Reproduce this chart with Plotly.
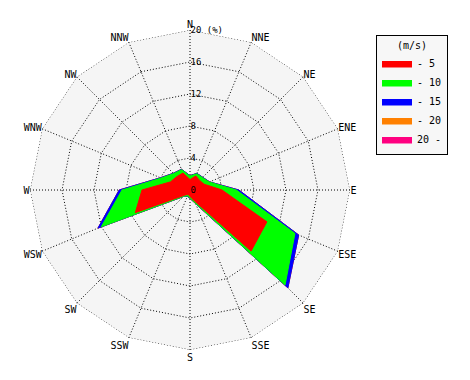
import plotly.graph_objects as go

directions = ["N", "NNE", "NE", "ENE", "E", "ESE", "SE", "SSE",
              "S", "SSW", "SW", "WSW", "W", "WNW", "NW", "NNW"]

# cumulative frequency (%) up to each speed class
cum_5 = [1.3, 1.9, 1.7, 1.9, 4.0, 10.4, 10.8, 1.5, 0.8, 0.6, 0.9, 7.4, 6.0, 2.65, 2.35, 2.3]
cum_10 = [1.75, 2.2, 2.2, 2.6, 5.8, 14.2, 16.8, 1.8, 1.0, 0.8, 1.1, 12.0, 8.5, 3.9, 2.9, 2.75]
cum_15 = [1.8, 2.25, 2.25, 2.65, 6.1, 14.7, 17.3, 1.85, 1.05, 0.85, 1.15, 12.45, 8.85, 4.0, 2.95, 2.8]
cum_20 = [1.8, 2.25, 2.25, 2.65, 6.1, 14.7, 17.3, 1.85, 1.05, 0.85, 1.15, 12.45, 8.85, 4.0, 2.95, 2.8]
cum_all = [1.8, 2.25, 2.25, 2.65, 6.1, 14.7, 17.3, 1.85, 1.05, 0.85, 1.15, 12.45, 8.85, 4.0, 2.95, 2.8]

class_names = ["- 5", "- 10", "- 15", "- 20", "20 -"]
class_colors = ["#ff0000", "#00ff00", "#0000ff", "#ff8000", "#ff0080"]
class_values = [cum_5, cum_10, cum_15, cum_20, cum_all]

radial_ticks = [0, 4, 8, 12, 16, 20]
radial_ticktext = ["0", "4", "8", "12", "16", "20 (%)"]
r_max = 20

FONT = "DejaVu Sans Mono"
DOT = "1px,2px"

fig = go.Figure()

# outer dotted ring of the grid
fig.add_trace(go.Scatterpolar(
    r=[r_max] * (len(directions) + 1),
    theta=directions + directions[:1],
    mode="lines",
    line=dict(color="black", width=1, dash=DOT),
    hoverinfo="skip",
    showlegend=False,
    cliponaxis=False,
))

for name, color, vals in reversed(list(zip(class_names, class_colors, class_values))):
    fig.add_trace(go.Scatterpolar(
        r=vals + vals[:1],
        theta=directions + directions[:1],
        mode="lines",
        fill="toself",
        fillcolor=color,
        line=dict(color=color, width=1),
        name=name,
    ))

fig.update_layout(
    width=470, height=380,
    margin=dict(l=0, r=0, t=0, b=0),
    paper_bgcolor="white",
    font=dict(family=FONT, size=10, color="black"),
    showlegend=True,
    legend=dict(
        x=376 / 470, y=1 - 35 / 380, xanchor="left", yanchor="top",
        traceorder="reversed",
        bgcolor="#f7f7f7", bordercolor="black", borderwidth=1,
        title=dict(text="(m/s)", side="top center", font=dict(family=FONT, size=10, color="black")),
        font=dict(family=FONT, size=10, color="black"),
        itemwidth=30,
        tracegroupgap=0,
    ),
    polar=dict(
        domain=dict(x=[30 / 470, 350 / 470], y=[30 / 380, 350 / 380]),
        gridshape="linear",
        bgcolor="#f5f5f5",
        radialaxis=dict(
            range=[0, r_max],
            angle=90,
            tickangle=90,
            side="clockwise",
            tickvals=radial_ticks,
            ticktext=radial_ticktext,
            ticks="",
            showline=False,
            gridcolor="black",
            griddash=DOT,
            gridwidth=1,
            tickfont=dict(family=FONT, size=9, color="black"),
        ),
        angularaxis=dict(
            type="category",
            categoryarray=directions,
            rotation=90,
            direction="clockwise",
            ticks="",
            showline=False,
            gridcolor="black",
            griddash=DOT,
            gridwidth=1,
            tickfont=dict(family=FONT, size=10, color="black"),
        ),
    ),
)

fig.write_html(
    "out.html",
    config={"displayModeBar": False},
    post_script="document.body.style.margin='0';document.body.style.padding='0';",
)
